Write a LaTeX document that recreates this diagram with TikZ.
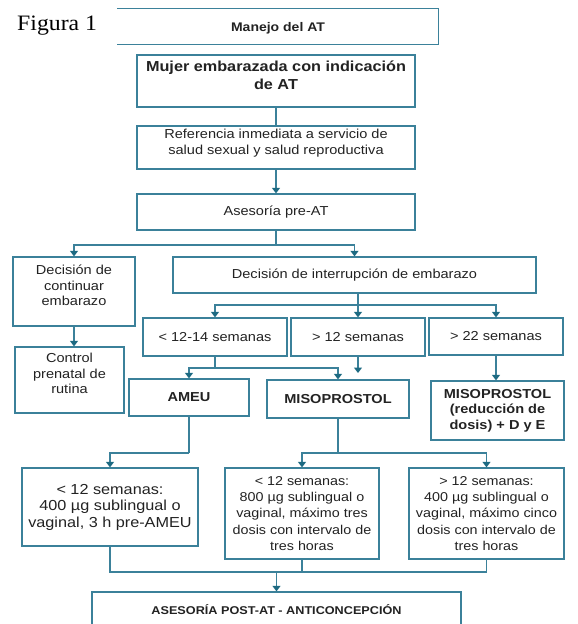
\documentclass[tikz,border=0pt]{standalone}
\usepackage{fontspec}
\setmainfont{Liberation Sans}[FakeStretch=1.12]
\newfontfamily\figfont{Liberation Serif}[FakeStretch=1.08]
\usepackage{tikz}
\usepackage{xcolor}
\usetikzlibrary{arrows.meta, positioning}
\definecolor{lineteal}{HTML}{3B819A}
\definecolor{tipteal}{HTML}{1D6A82}
\definecolor{inktext}{HTML}{222222}
\tikzset{
    flowbox/.style={draw=lineteal, line width=1.3pt, align=center, inner sep=2pt, text=inktext, font=\fontsize{13}{15.5}\selectfont},
    boldbox/.style={flowbox, font=\bfseries\fontsize{13}{15.5}\selectfont},
    link/.style={draw=lineteal, line width=1.3pt},
    arr/.style={link, -{Stealth[length=5.5pt, width=8pt, inset=0pt, color=tipteal]}}
}

\begin{document}
\begin{tikzpicture}[x=1pt, y=-1pt]
                    \path[use as bounding box, clip] (0, 0) rectangle (578, 624);

                    \node[anchor=base west, inner sep=0pt, text=black, font=\figfont\fontsize{22}{24}\selectfont] (figlabel) at (17, 30) {Figura 1};

                    \node[boldbox, draw=none, minimum width=320pt, minimum height=35pt, text depth=0pt, font=\bfseries\fontsize{12.5}{15}\selectfont] (manejo) at (278, 26.5) {Manejo del AT};
                    \node[boldbox, minimum width=278pt, minimum height=52pt, font=\bfseries\fontsize{14.5}{18}\selectfont] (mujer) at (276, 81) {Mujer embarazada con indicación\\de AT\\[-7pt]\mbox{}};
                    \node[flowbox, minimum width=278pt, minimum height=43pt] (referencia) at (276, 147.5) {Referencia inmediata a servicio de\\salud sexual y salud reproductiva\\[-4.5pt]\mbox{}};
                    \node[flowbox, minimum width=278pt, minimum height=36pt] (asesoria) at (276, 212) {Asesoría pre-AT};
                    \node[flowbox, minimum width=122pt, minimum height=69pt] (continuar) at (74, 291.5) {Decisión de\\continuar\\embarazo\\[-3pt]\mbox{}};
                    \node[flowbox, minimum width=363pt, minimum height=36pt] (interrupcion) at (354.5, 275) {Decisión de interrupción de embarazo};
                    \node[flowbox, minimum width=109pt, minimum height=66pt] (control) at (69.5, 380) {Control\\prenatal de\\rutina\\[-3pt]\mbox{}};
                    \node[flowbox, minimum width=144pt, minimum height=38pt] (semA) at (215, 337) {< 12-14 semanas};
                    \node[flowbox, minimum width=134pt, minimum height=38pt] (semB) at (358, 337) {> 12 semanas};
                    \node[flowbox, minimum width=134pt, minimum height=37pt] (semC) at (496, 336.5) {> 22 semanas};
                    \node[boldbox, minimum width=120pt, minimum height=37pt] (ameu) at (189, 397.5) {AMEU};
                    \node[boldbox, minimum width=142pt, minimum height=38pt] (miso) at (338, 399) {MISOPROSTOL};
                    \node[boldbox, minimum width=133pt, minimum height=59pt] (misored) at (497.5, 410.5) {MISOPROSTOL\\(reducción de\\dosis) + D y E};
                    \node[flowbox, minimum width=176pt, minimum height=78pt, font=\fontsize{14.5}{16.5}\selectfont] (dosisA) at (110, 507) {< 12 semanas:\\400 µg sublingual o\\vaginal, 3 h pre-AMEU};
                    \node[flowbox, minimum width=154pt, minimum height=91pt, font=\fontsize{12.8}{16.3}\selectfont] (dosisB) at (302, 513.5) {< 12 semanas:\\800 µg sublingual o\\vaginal, máximo tres\\dosis con intervalo de\\tres horas};
                    \node[flowbox, minimum width=155pt, minimum height=91pt, font=\fontsize{12.8}{16.3}\selectfont] (dosisC) at (486.5, 513.5) {> 12 semanas:\\400 µg sublingual o\\vaginal, máximo cinco\\dosis con intervalo de\\tres horas};
                    \node[boldbox, minimum width=369pt, minimum height=36pt, font=\bfseries\fontsize{11.3}{14}\selectfont] (post) at (276.5, 610) {ASESORÍA POST-AT - ANTICONCEPCIÓN};

                    \draw[link] (manejo.north west) -- (manejo.north east) -- (manejo.south east) -- (manejo.south west);

                    \coordinate (splitA) at (276, 245);
                    \coordinate (splitB) at (358, 305);
                    \coordinate (splitC) at (215, 368);
                    \coordinate (gapB) at (358, 373);
                    \coordinate (splitD) at (189, 453);
                    \coordinate (splitE) at (338, 453);
                    \coordinate (joinF) at (276.5, 572);

                    \draw[link] (mujer) -- (referencia);
                    \draw[arr] (referencia) -- (asesoria);
                    \draw[link] (asesoria) -- (splitA);
                    \draw[arr] (splitA) -| (continuar);
                    \draw[arr] (splitA) -| (interrupcion);
                    \draw[arr] (continuar.south) -- (continuar.south |- control.north);
                    \draw[link] (interrupcion.south -| splitB) -- (splitB);
                    \draw[arr] (splitB) -| (semA);
                    \draw[arr] (splitB) -- (semB);
                    \draw[arr] (splitB) -| (semC);
                    \draw[link] (semA) -- (splitC);
                    \draw[arr] (splitC) -| (ameu);
                    \draw[arr] (splitC) -| (miso);
                    \draw[arr] (semB) -- (gapB);
                    \draw[arr] (semC.south) -- (semC.south |- misored.north);
                    \draw[link] (ameu) -- (splitD);
                    \draw[arr] (splitD) -| (dosisA);
                    \draw[link] (miso) -- (splitE);
                    \draw[arr] (splitE) -| (dosisB);
                    \draw[arr] (splitE) -| (dosisC);
                    \draw[link] (dosisA) |- (joinF) -| (dosisC);
                    \draw[link] (dosisB) -- (dosisB |- joinF);
                    \draw[arr] (joinF) -- (post);
\end{tikzpicture}
\end{document}
